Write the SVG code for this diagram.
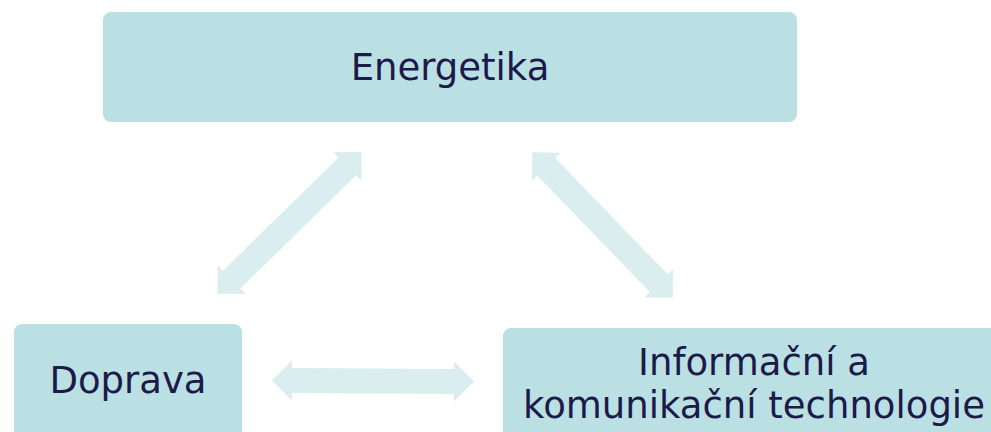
<svg xmlns="http://www.w3.org/2000/svg" xmlns:xlink="http://www.w3.org/1999/xlink" width="991" height="432" viewBox="0 0 991 432">
<style>
.box{fill:#bbe0e3}
.lbl{font-family:"DejaVu Sans","Verdana",sans-serif;font-size:37px;fill:#1b1a4a;text-anchor:middle}
.arr{fill:#daedef}
</style>
<defs>
<polygon id="dbl" points="-101,0 -81,-20 -81,-12.5 81,-12.5 81,-20 101,0 81,20 81,12.5 -81,12.5 -81,20"/>
</defs>
<rect width="991" height="432" fill="#ffffff"/>
<g id="connectors" class="arr">
<use xlink:href="#dbl" transform="translate(289.5,223) rotate(-44.4)"/>
<use xlink:href="#dbl" transform="translate(602.5,225) rotate(46)"/>
<use xlink:href="#dbl" transform="translate(373,381) rotate(0.3)"/>
</g>
<g id="energetika">
<rect class="box" x="103" y="12" width="694" height="110" rx="8"/>
<text class="lbl" x="450" y="80">Energetika</text>
</g>
<g id="doprava">
<rect class="box" x="14" y="324" width="228" height="120" rx="8"/>
<text class="lbl" x="128" y="393">Doprava</text>
</g>
<g id="ikt">
<rect class="box" x="503" y="328" width="500" height="120" rx="8"/>
<text class="lbl" x="754" y="375">Informační a</text>
<text class="lbl" x="754" y="418">komunikační technologie</text>
</g>
</svg>
